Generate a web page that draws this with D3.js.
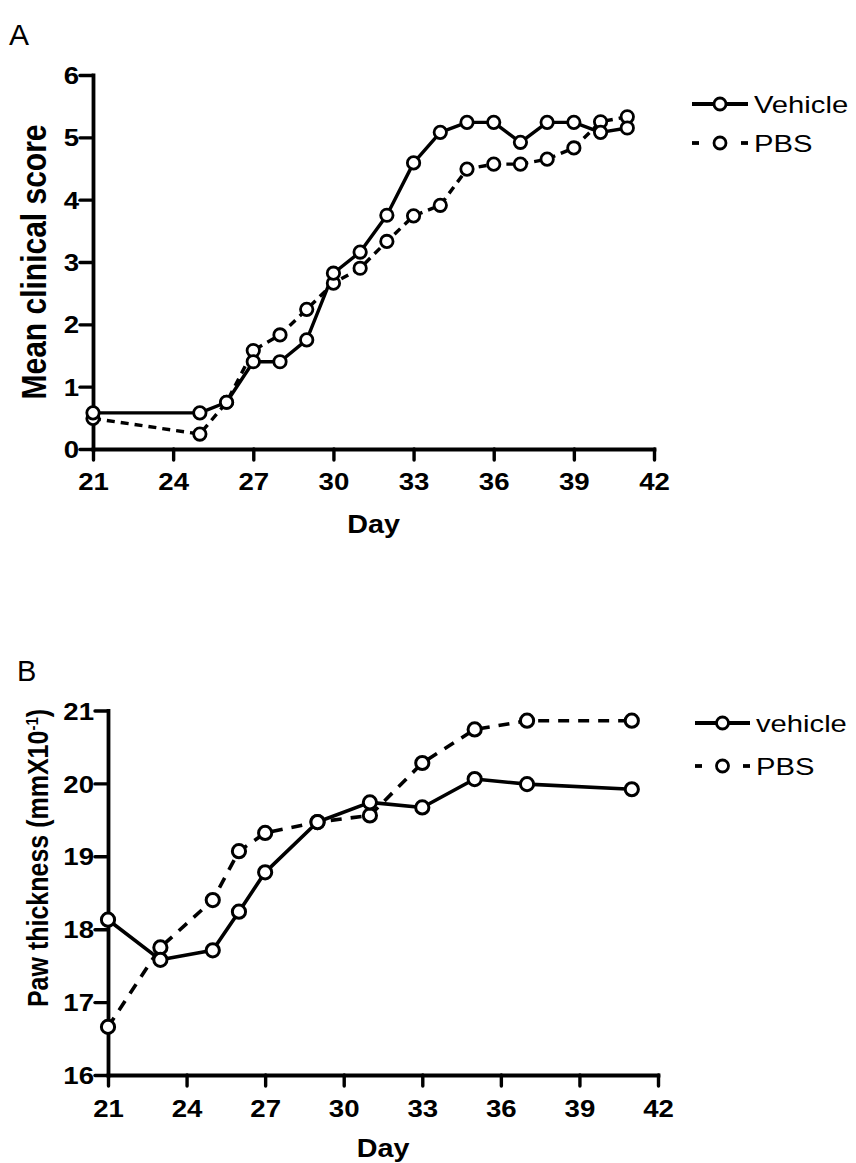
<!DOCTYPE html>
<html>
<head>
<meta charset="utf-8">
<script src="https://cdn.jsdelivr.net/npm/d3@7"></script>
<style>
  html, body { margin: 0; padding: 0; background: #fff; }
  svg { display: block; }
  text { font-family: "Liberation Sans", Arial, Helvetica, sans-serif; fill: #000; }
</style>
</head>
<body>
<svg id="chart" width="856" height="1163"></svg>
<script>
// ---------- Data ----------
const daysA = [21, 25, 26, 27, 28, 29, 30, 31, 32, 33, 34, 35, 36, 37, 38, 39, 40, 41];
const vehicleA = [0.58, 0.58, 0.75, 1.40, 1.40, 1.75, 2.82, 3.16, 3.75, 4.59, 5.08, 5.24, 5.24, 4.92, 5.24, 5.24, 5.08, 5.15];
const pbsA = [0.49, 0.24, 0.75, 1.58, 1.83, 2.24, 2.66, 2.90, 3.33, 3.74, 3.91, 4.49, 4.57, 4.57, 4.65, 4.83, 5.25, 5.33];

const daysB = [21, 23, 25, 26, 27, 29, 31, 33, 35, 37, 41];
const vehicleB = [18.13, 17.58, 17.71, 18.24, 18.78, 19.47, 19.74, 19.67, 20.06, 19.99, 19.92];
const pbsB = [16.66, 17.75, 18.40, 19.07, 19.32, 19.47, 19.56, 20.28, 20.74, 20.86, 20.86];

const xTicks = [21, 24, 27, 30, 33, 36, 39, 42];
const yTicksA = [0, 1, 2, 3, 4, 5, 6];
const yTicksB = [16, 17, 18, 19, 20, 21];
const legendA = ["Vehicle", "PBS"];
const legendB = ["vehicle", "PBS"];

// ---------- Drawing ----------
const svg = d3.select("#chart");
const SX = 1.15; // horizontal stretch of the lettering in the original figure

function stretchedText(parent, x, y, size, weight, anchor, sx) {
  return parent.append("text")
    .attr("transform", `translate(${x},${y}) scale(${sx},1)`)
    .attr("text-anchor", anchor)
    .style("font-size", size + "px").style("font-weight", weight);
}

function panel(cfg) {
  const g = svg.append("g");
  const x = d3.scaleLinear().domain([21, 42]).range([cfg.x0, cfg.x1]);
  const y = d3.scaleLinear().domain(cfg.yDomain).range([cfg.yBottom, cfg.yTop]);

  // panel letter
  stretchedText(g, cfg.letterX, cfg.letterY, cfg.letterSize, "normal", "start", 1.0).text(cfg.letter);

  // axes
  const xAxis = d3.axisBottom(x).tickValues(xTicks).tickFormat(d3.format("d"))
    .tickSize(11).tickPadding(0).tickSizeOuter(0);
  const yAxis = d3.axisLeft(y).tickValues(cfg.yTicks).tickFormat(d3.format("d"))
    .tickSize(13).tickPadding(0).tickSizeOuter(0);

  const gx = g.append("g").attr("transform", `translate(0,${cfg.yBottom})`).call(xAxis);
  const gy = g.append("g").attr("transform", `translate(${cfg.x0},0)`).call(yAxis);
  [gx, gy].forEach(a => {
    a.attr("font-size", null).attr("font-family", null);
    a.select(".domain").attr("stroke", "#000").attr("stroke-width", 3.8).attr("stroke-linecap", "square");
    a.selectAll(".tick line").attr("stroke", "#000").attr("stroke-width", 3.4).attr("stroke-linecap", "round");
    a.selectAll(".tick text")
      .style("font-size", cfg.tickSize + "px").style("font-weight", "bold").attr("fill", "#000");
  });
  gx.selectAll(".tick text").attr("y", null).attr("dy", null)
    .attr("transform", `translate(0,${cfg.xTickBase}) scale(${cfg.sx},1)`);
  gy.selectAll(".tick text").attr("x", null).attr("dy", null)
    .attr("transform", `translate(${-cfg.yTickGap},${cfg.tickSize * 0.36}) scale(${cfg.sx},1)`);

  // axis titles
  stretchedText(g, (cfg.x0 + cfg.x1) / 2, cfg.xTitleY, cfg.titleSize, "bold", "middle", cfg.sx).text("Day");

  const yt = g.append("text")
    .attr("transform", `translate(${cfg.yTitleX},${cfg.yTitleCY}) scale(${cfg.sx},1) rotate(-90)`)
    .attr("text-anchor", "middle").style("font-size", cfg.yTitleSize + "px").style("font-weight", "bold");
  cfg.yTitle(yt);

  // lines
  const series = [
    { days: cfg.days, vals: cfg.vehicle, dash: null },
    { days: cfg.days, vals: cfg.pbs, dash: cfg.dash }
  ];
  const line = d3.line().x(d => x(d[0])).y(d => y(d[1]));
  series.slice().reverse().forEach(s => {
    const pts = s.days.map((d, i) => [d, s.vals[i]]);
    g.append("path").datum(pts).attr("d", line)
      .attr("fill", "none").attr("stroke", "#000").attr("stroke-width", cfg.lw)
      .attr("stroke-dasharray", s.dash).attr("stroke-linejoin", "round");
  });
  series.slice().reverse().forEach(s => {
    g.append("g").selectAll("circle").data(s.days.map((d, i) => [d, s.vals[i]]))
      .join("circle").attr("cx", d => x(d[0])).attr("cy", d => y(d[1]))
      .attr("r", cfg.r).attr("fill", "#fff").attr("stroke", "#000").attr("stroke-width", cfg.cw);
  });

  // legend
  cfg.legend.forEach((name, i) => {
    const ly = cfg.legY + i * cfg.legGap;
    const lg = g.append("g");
    if (i === 0) {
      lg.append("line").attr("x1", cfg.legX0).attr("x2", cfg.legX1).attr("y1", ly).attr("y2", ly)
        .attr("stroke", "#000").attr("stroke-width", 3.8);
    } else {
      lg.append("line").attr("x1", cfg.legX0).attr("x2", cfg.legX0 + 7).attr("y1", ly).attr("y2", ly)
        .attr("stroke", "#000").attr("stroke-width", 3.8);
      lg.append("line").attr("x1", cfg.legX1 - 7).attr("x2", cfg.legX1).attr("y1", ly).attr("y2", ly)
        .attr("stroke", "#000").attr("stroke-width", 3.8);
    }
    lg.append("circle").attr("cx", (cfg.legX0 + cfg.legX1) / 2).attr("cy", ly).attr("r", 6)
      .attr("fill", "#fff").attr("stroke", "#000").attr("stroke-width", 2.8);
    stretchedText(lg, cfg.legX1 + 6, ly + 8.5, 23, "normal", "start", 1.27).text(name);
  });
}

panel({
  letter: "A", letterX: 9, letterY: 45, letterSize: 30,
  x0: 93, x1: 654, yBottom: 449, yTop: 75, yDomain: [0, 6], yTicks: yTicksA,
  sx: SX, tickSize: 24, xTickBase: 41, yTickGap: 14,
  titleSize: 25, xTitleY: 533, yTitleSize: 30, yTitleX: 46, yTitleCY: 262,
  yTitle: t => t.text("Mean clinical score"),
  days: daysA, vehicle: vehicleA, pbs: pbsA, dash: "8,6",
  lw: 3.4, r: 6.2, cw: 2.8,
  legend: legendA, legX0: 692, legX1: 748, legY: 104, legGap: 39
});

panel({
  letter: "B", letterX: 17, letterY: 681, letterSize: 29,
  x0: 108, x1: 658, yBottom: 1075, yTop: 710.5, yDomain: [16, 21], yTicks: yTicksB,
  sx: SX, tickSize: 24, xTickBase: 42, yTickGap: 14,
  titleSize: 25, xTitleY: 1157, yTitleSize: 25, yTitleX: 48, yTitleCY: 858,
  yTitle: t => {
    t.append("tspan").text("Paw thickness (mmX10");
    t.append("tspan").attr("baseline-shift", "super").style("font-size", "15px").text("-1");
    t.append("tspan").text(")");
  },
  days: daysB, vehicle: vehicleB, pbs: pbsB, dash: "11,9",
  lw: 3.6, r: 6.6, cw: 3,
  legend: legendB, legX0: 695, legX1: 750, legY: 723, legGap: 43
});
</script>
</body>
</html>
